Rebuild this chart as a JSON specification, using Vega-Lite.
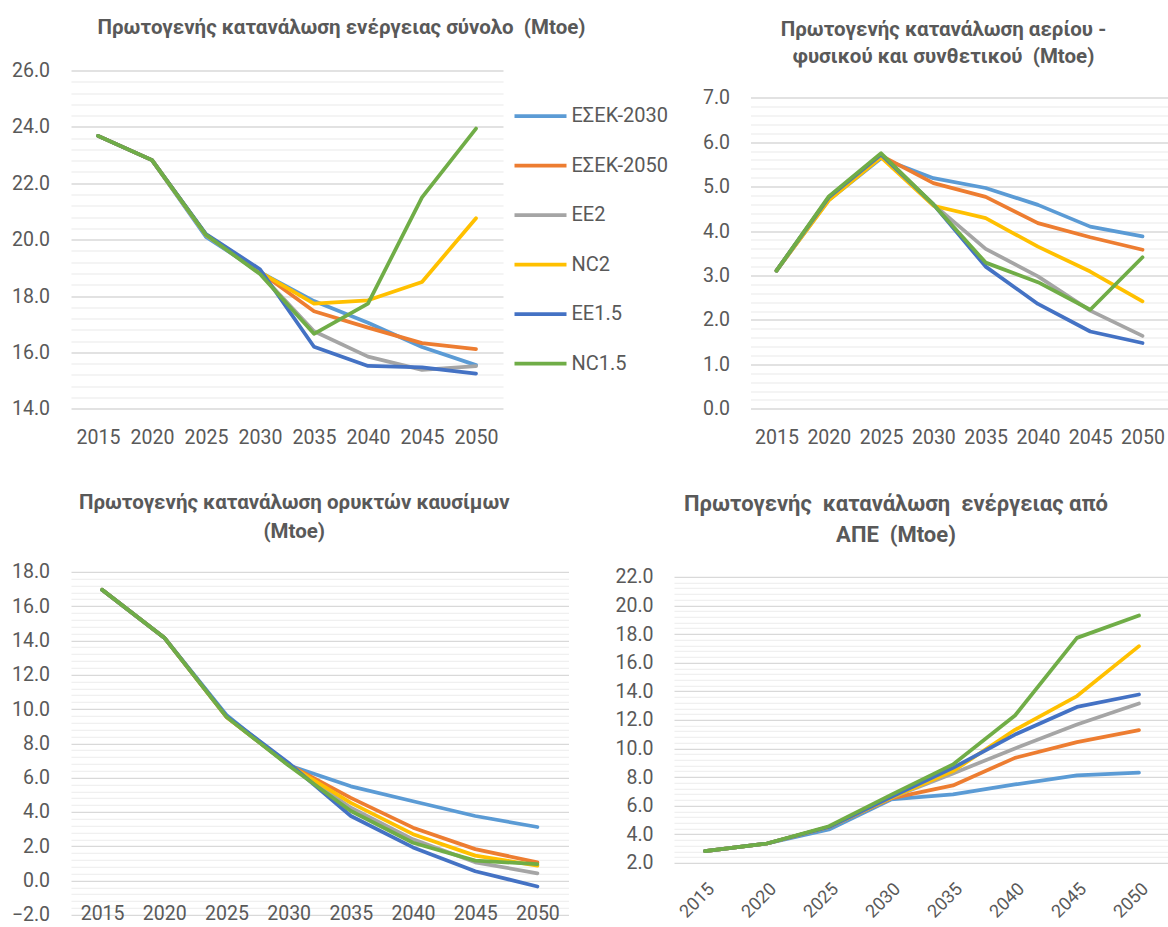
{
  "$schema": "https://vega.github.io/schema/vega-lite/v6.json",
  "padding": {"left": 11, "top": 17.5, "right": 0, "bottom": 3},
  "background": "white",
  "config": {
    "view": {"stroke": null},
    "font": "Roboto",
    "axis": {"labelColor": "#595959", "labelFontSize": 19.5, "labelFont": "Roboto", "domain": false, "ticks": false, "title": null},
    "title": {"color": "#595959", "fontSize": 20.5, "fontWeight": "bold", "font": "Roboto", "anchor": "middle", "frame": "group", "baseline": "bottom", "lineHeight": 27},
    "line": {"strokeWidth": 3.75, "strokeCap": "round", "strokeJoin": "round"}
  },
  "datasets": {
    "total": [
      {"year": 2015, "series": "ΕΣΕΚ-2030", "value": 23.68}, {"year": 2015, "series": "ΕΣΕΚ-2050", "value": 23.68}, {"year": 2015, "series": "EE2", "value": 23.68}, {"year": 2015, "series": "NC2", "value": 23.68}, {"year": 2015, "series": "EE1.5", "value": 23.68}, {"year": 2015, "series": "NC1.5", "value": 23.68},
      {"year": 2020, "series": "ΕΣΕΚ-2030", "value": 22.82}, {"year": 2020, "series": "ΕΣΕΚ-2050", "value": 22.82}, {"year": 2020, "series": "EE2", "value": 22.82}, {"year": 2020, "series": "NC2", "value": 22.82}, {"year": 2020, "series": "EE1.5", "value": 22.82}, {"year": 2020, "series": "NC1.5", "value": 22.82},
      {"year": 2025, "series": "ΕΣΕΚ-2030", "value": 20.1}, {"year": 2025, "series": "ΕΣΕΚ-2050", "value": 20.17}, {"year": 2025, "series": "EE2", "value": 20.17}, {"year": 2025, "series": "NC2", "value": 20.17}, {"year": 2025, "series": "EE1.5", "value": 20.2}, {"year": 2025, "series": "NC1.5", "value": 20.17},
      {"year": 2030, "series": "ΕΣΕΚ-2030", "value": 18.85}, {"year": 2030, "series": "ΕΣΕΚ-2050", "value": 18.85}, {"year": 2030, "series": "EE2", "value": 18.8}, {"year": 2030, "series": "NC2", "value": 18.85}, {"year": 2030, "series": "EE1.5", "value": 18.95}, {"year": 2030, "series": "NC1.5", "value": 18.78},
      {"year": 2035, "series": "ΕΣΕΚ-2030", "value": 17.82}, {"year": 2035, "series": "ΕΣΕΚ-2050", "value": 17.46}, {"year": 2035, "series": "EE2", "value": 16.75}, {"year": 2035, "series": "NC2", "value": 17.73}, {"year": 2035, "series": "EE1.5", "value": 16.2}, {"year": 2035, "series": "NC1.5", "value": 16.66},
      {"year": 2040, "series": "ΕΣΕΚ-2030", "value": 17.05}, {"year": 2040, "series": "ΕΣΕΚ-2050", "value": 16.88}, {"year": 2040, "series": "EE2", "value": 15.85}, {"year": 2040, "series": "NC2", "value": 17.85}, {"year": 2040, "series": "EE1.5", "value": 15.52}, {"year": 2040, "series": "NC1.5", "value": 17.73},
      {"year": 2045, "series": "ΕΣΕΚ-2030", "value": 16.19}, {"year": 2045, "series": "ΕΣΕΚ-2050", "value": 16.33}, {"year": 2045, "series": "EE2", "value": 15.38}, {"year": 2045, "series": "NC2", "value": 18.5}, {"year": 2045, "series": "EE1.5", "value": 15.47}, {"year": 2045, "series": "NC1.5", "value": 21.5},
      {"year": 2050, "series": "ΕΣΕΚ-2030", "value": 15.55}, {"year": 2050, "series": "ΕΣΕΚ-2050", "value": 16.12}, {"year": 2050, "series": "EE2", "value": 15.51}, {"year": 2050, "series": "NC2", "value": 20.76}, {"year": 2050, "series": "EE1.5", "value": 15.25}, {"year": 2050, "series": "NC1.5", "value": 23.94}
    ],
    "gas": [
      {"year": 2015, "series": "ΕΣΕΚ-2030", "value": 3.11}, {"year": 2015, "series": "ΕΣΕΚ-2050", "value": 3.11}, {"year": 2015, "series": "EE2", "value": 3.11}, {"year": 2015, "series": "NC2", "value": 3.11}, {"year": 2015, "series": "EE1.5", "value": 3.11}, {"year": 2015, "series": "NC1.5", "value": 3.11},
      {"year": 2020, "series": "ΕΣΕΚ-2030", "value": 4.7}, {"year": 2020, "series": "ΕΣΕΚ-2050", "value": 4.75}, {"year": 2020, "series": "EE2", "value": 4.75}, {"year": 2020, "series": "NC2", "value": 4.69}, {"year": 2020, "series": "EE1.5", "value": 4.76}, {"year": 2020, "series": "NC1.5", "value": 4.78},
      {"year": 2025, "series": "ΕΣΕΚ-2030", "value": 5.64}, {"year": 2025, "series": "ΕΣΕΚ-2050", "value": 5.7}, {"year": 2025, "series": "EE2", "value": 5.7}, {"year": 2025, "series": "NC2", "value": 5.66}, {"year": 2025, "series": "EE1.5", "value": 5.72}, {"year": 2025, "series": "NC1.5", "value": 5.75},
      {"year": 2030, "series": "ΕΣΕΚ-2030", "value": 5.19}, {"year": 2030, "series": "ΕΣΕΚ-2050", "value": 5.08}, {"year": 2030, "series": "EE2", "value": 4.6}, {"year": 2030, "series": "NC2", "value": 4.57}, {"year": 2030, "series": "EE1.5", "value": 4.6}, {"year": 2030, "series": "NC1.5", "value": 4.6},
      {"year": 2035, "series": "ΕΣΕΚ-2030", "value": 4.97}, {"year": 2035, "series": "ΕΣΕΚ-2050", "value": 4.77}, {"year": 2035, "series": "EE2", "value": 3.6}, {"year": 2035, "series": "NC2", "value": 4.29}, {"year": 2035, "series": "EE1.5", "value": 3.2}, {"year": 2035, "series": "NC1.5", "value": 3.29},
      {"year": 2040, "series": "ΕΣΕΚ-2030", "value": 4.59}, {"year": 2040, "series": "ΕΣΕΚ-2050", "value": 4.18}, {"year": 2040, "series": "EE2", "value": 2.98}, {"year": 2040, "series": "NC2", "value": 3.65}, {"year": 2040, "series": "EE1.5", "value": 2.36}, {"year": 2040, "series": "NC1.5", "value": 2.85},
      {"year": 2045, "series": "ΕΣΕΚ-2030", "value": 4.1}, {"year": 2045, "series": "ΕΣΕΚ-2050", "value": 3.86}, {"year": 2045, "series": "EE2", "value": 2.21}, {"year": 2045, "series": "NC2", "value": 3.09}, {"year": 2045, "series": "EE1.5", "value": 1.74}, {"year": 2045, "series": "NC1.5", "value": 2.23},
      {"year": 2050, "series": "ΕΣΕΚ-2030", "value": 3.88}, {"year": 2050, "series": "ΕΣΕΚ-2050", "value": 3.58}, {"year": 2050, "series": "EE2", "value": 1.64}, {"year": 2050, "series": "NC2", "value": 2.42}, {"year": 2050, "series": "EE1.5", "value": 1.48}, {"year": 2050, "series": "NC1.5", "value": 3.41}
    ],
    "fossil": [
      {"year": 2015, "series": "ΕΣΕΚ-2030", "value": 16.95}, {"year": 2015, "series": "ΕΣΕΚ-2050", "value": 16.95}, {"year": 2015, "series": "EE2", "value": 16.95}, {"year": 2015, "series": "NC2", "value": 16.95}, {"year": 2015, "series": "EE1.5", "value": 16.95}, {"year": 2015, "series": "NC1.5", "value": 16.95},
      {"year": 2020, "series": "ΕΣΕΚ-2030", "value": 14.16}, {"year": 2020, "series": "ΕΣΕΚ-2050", "value": 14.16}, {"year": 2020, "series": "EE2", "value": 14.16}, {"year": 2020, "series": "NC2", "value": 14.16}, {"year": 2020, "series": "EE1.5", "value": 14.16}, {"year": 2020, "series": "NC1.5", "value": 14.16},
      {"year": 2025, "series": "ΕΣΕΚ-2030", "value": 9.65}, {"year": 2025, "series": "ΕΣΕΚ-2050", "value": 9.54}, {"year": 2025, "series": "EE2", "value": 9.54}, {"year": 2025, "series": "NC2", "value": 9.54}, {"year": 2025, "series": "EE1.5", "value": 9.58}, {"year": 2025, "series": "NC1.5", "value": 9.54},
      {"year": 2030, "series": "ΕΣΕΚ-2030", "value": 6.72}, {"year": 2030, "series": "ΕΣΕΚ-2050", "value": 6.75}, {"year": 2030, "series": "EE2", "value": 6.75}, {"year": 2030, "series": "NC2", "value": 6.75}, {"year": 2030, "series": "EE1.5", "value": 6.85}, {"year": 2030, "series": "NC1.5", "value": 6.7},
      {"year": 2035, "series": "ΕΣΕΚ-2030", "value": 5.49}, {"year": 2035, "series": "ΕΣΕΚ-2050", "value": 4.82}, {"year": 2035, "series": "EE2", "value": 4.24}, {"year": 2035, "series": "NC2", "value": 4.53}, {"year": 2035, "series": "EE1.5", "value": 3.76}, {"year": 2035, "series": "NC1.5", "value": 4.05},
      {"year": 2040, "series": "ΕΣΕΚ-2030", "value": 4.62}, {"year": 2040, "series": "ΕΣΕΚ-2050", "value": 3.08}, {"year": 2040, "series": "EE2", "value": 2.4}, {"year": 2040, "series": "NC2", "value": 2.7}, {"year": 2040, "series": "EE1.5", "value": 1.93}, {"year": 2040, "series": "NC1.5", "value": 2.2},
      {"year": 2045, "series": "ΕΣΕΚ-2030", "value": 3.76}, {"year": 2045, "series": "ΕΣΕΚ-2050", "value": 1.83}, {"year": 2045, "series": "EE2", "value": 1.06}, {"year": 2045, "series": "NC2", "value": 1.45}, {"year": 2045, "series": "EE1.5", "value": 0.54}, {"year": 2045, "series": "NC1.5", "value": 1.16},
      {"year": 2050, "series": "ΕΣΕΚ-2030", "value": 3.12}, {"year": 2050, "series": "ΕΣΕΚ-2050", "value": 1.06}, {"year": 2050, "series": "EE2", "value": 0.42}, {"year": 2050, "series": "NC2", "value": 0.87}, {"year": 2050, "series": "EE1.5", "value": -0.35}, {"year": 2050, "series": "NC1.5", "value": 0.96}
    ],
    "res": [
      {"year": 2015, "series": "ΕΣΕΚ-2030", "value": 2.82}, {"year": 2015, "series": "ΕΣΕΚ-2050", "value": 2.82}, {"year": 2015, "series": "EE2", "value": 2.82}, {"year": 2015, "series": "NC2", "value": 2.82}, {"year": 2015, "series": "EE1.5", "value": 2.82}, {"year": 2015, "series": "NC1.5", "value": 2.82},
      {"year": 2020, "series": "ΕΣΕΚ-2030", "value": 3.35}, {"year": 2020, "series": "ΕΣΕΚ-2050", "value": 3.35}, {"year": 2020, "series": "EE2", "value": 3.35}, {"year": 2020, "series": "NC2", "value": 3.35}, {"year": 2020, "series": "EE1.5", "value": 3.35}, {"year": 2020, "series": "NC1.5", "value": 3.35},
      {"year": 2025, "series": "ΕΣΕΚ-2030", "value": 4.33}, {"year": 2025, "series": "ΕΣΕΚ-2050", "value": 4.5}, {"year": 2025, "series": "EE2", "value": 4.5}, {"year": 2025, "series": "NC2", "value": 4.5}, {"year": 2025, "series": "EE1.5", "value": 4.5}, {"year": 2025, "series": "NC1.5", "value": 4.56},
      {"year": 2030, "series": "ΕΣΕΚ-2030", "value": 6.43}, {"year": 2030, "series": "ΕΣΕΚ-2050", "value": 6.5}, {"year": 2030, "series": "EE2", "value": 6.55}, {"year": 2030, "series": "NC2", "value": 6.55}, {"year": 2030, "series": "EE1.5", "value": 6.6}, {"year": 2030, "series": "NC1.5", "value": 6.75},
      {"year": 2035, "series": "ΕΣΕΚ-2030", "value": 6.78}, {"year": 2035, "series": "ΕΣΕΚ-2050", "value": 7.41}, {"year": 2035, "series": "EE2", "value": 8.25}, {"year": 2035, "series": "NC2", "value": 8.41}, {"year": 2035, "series": "EE1.5", "value": 8.64}, {"year": 2035, "series": "NC1.5", "value": 8.88},
      {"year": 2040, "series": "ΕΣΕΚ-2030", "value": 7.48}, {"year": 2040, "series": "ΕΣΕΚ-2050", "value": 9.34}, {"year": 2040, "series": "EE2", "value": 10.0}, {"year": 2040, "series": "NC2", "value": 11.3}, {"year": 2040, "series": "EE1.5", "value": 10.97}, {"year": 2040, "series": "NC1.5", "value": 12.3},
      {"year": 2045, "series": "ΕΣΕΚ-2030", "value": 8.11}, {"year": 2045, "series": "ΕΣΕΚ-2050", "value": 10.44}, {"year": 2045, "series": "EE2", "value": 11.67}, {"year": 2045, "series": "NC2", "value": 13.66}, {"year": 2045, "series": "EE1.5", "value": 12.9}, {"year": 2045, "series": "NC1.5", "value": 17.73},
      {"year": 2050, "series": "ΕΣΕΚ-2030", "value": 8.3}, {"year": 2050, "series": "ΕΣΕΚ-2050", "value": 11.28}, {"year": 2050, "series": "EE2", "value": 13.14}, {"year": 2050, "series": "NC2", "value": 17.15}, {"year": 2050, "series": "EE1.5", "value": 13.77}, {"year": 2050, "series": "NC1.5", "value": 19.3}
    ]
  },
  "vconcat": [
    {
      "hconcat": [
        {
          "data": {"name": "total"},
          "width": 432, "height": 338.3,
          "title": {"text": "Πρωτογενής κατανάλωση ενέργειας σύνολο\u00a0 (Mtoe)", "dx": 54.5, "offset": 22},
          "mark": {"type": "line"},
          "encoding": {
            "x": {"field": "year", "type": "quantitative", "scale": {"domain": [2012.5, 2052.5], "nice": false, "zero": false},
                  "axis": {"values": [2015, 2020, 2025, 2030, 2035, 2040, 2045, 2050], "format": "d", "grid": false, "labelPadding": 29, "labelBaseline": "middle"}},
            "y": {"field": "value", "type": "quantitative", "scale": {"domain": [14, 26], "nice": false, "zero": false},
                  "axis": {"values": [14,14.4,14.8,15.2,15.6,16,16.4,16.8,17.2,17.6,18,18.4,18.8,19.2,19.6,20,20.4,20.8,21.2,21.6,22,22.4,22.8,23.2,23.6,24,24.4,24.8,25.2,25.6,26],
                           "labelExpr": "abs(round(datum.value*10)) % 20 == 0 ? format(datum.value, '.1f') : ''", "labelOverlap": false, "labelPadding": 21.5,
                           "gridColor": {"condition": {"test": "abs(round(datum.value*10)) % 20 == 0", "value": "#d9d9d9"}, "value": "#f0f0f0"}, "gridWidth": 1.3}},
            "color": {"field": "series", "type": "nominal",
                      "scale": {"domain": ["ΕΣΕΚ-2030", "ΕΣΕΚ-2050", "EE2", "NC2", "EE1.5", "NC1.5"], "range": ["#5B9BD5", "#ED7D31", "#A5A5A5", "#FFC000", "#4472C4", "#70AD47"]},
                      "legend": {"orient": "none", "legendX": 441.5, "legendY": 17.5, "title": null, "symbolType": "stroke", "symbolSize": 2704, "symbolStrokeWidth": 4, "labelFontSize": 20, "labelColor": "#595959", "labelFont": "Roboto", "rowPadding": 11.5, "labelOffset": 3}}
          }
        },
        {
          "data": {"name": "gas"},
          "width": 417, "height": 338.3,
          "title": {"text": ["Πρωτογενής κατανάλωση αερίου -", "φυσικού και συνθετικού\u00a0 (Mtoe)"], "dx": -15.5, "offset": 3},
          "mark": {"type": "line"},
          "encoding": {
            "x": {"field": "year", "type": "quantitative", "scale": {"domain": [2012.51, 2052.39], "nice": false, "zero": false},
                  "axis": {"values": [2015, 2020, 2025, 2030, 2035, 2040, 2045, 2050], "format": "d", "grid": false, "labelPadding": 29, "labelBaseline": "middle"}},
            "y": {"field": "value", "type": "quantitative", "scale": {"domain": [0, 7.614], "nice": false, "zero": false},
                  "axis": {"values": [0,0.2,0.4,0.6,0.8,1,1.2,1.4,1.6,1.8,2,2.2,2.4,2.6,2.8,3,3.2,3.4,3.6,3.8,4,4.2,4.4,4.6,4.8,5,5.2,5.4,5.6,5.8,6,6.2,6.4,6.6,6.8,7],
                           "labelExpr": "abs(round(datum.value*10)) % 10 == 0 ? format(datum.value, '.1f') : ''", "labelOverlap": false, "labelPadding": 21,
                           "gridColor": {"condition": {"test": "abs(round(datum.value*10)) % 10 == 0", "value": "#d9d9d9"}, "value": "#f0f0f0"}, "gridWidth": 1.3}},
            "color": {"field": "series", "type": "nominal",
                      "scale": {"domain": ["ΕΣΕΚ-2030", "ΕΣΕΚ-2050", "EE2", "NC2", "EE1.5", "NC1.5"], "range": ["#5B9BD5", "#ED7D31", "#A5A5A5", "#FFC000", "#4472C4", "#70AD47"]},
                      "legend": null}
          }
        }
      ],
      "spacing": 247.5,
      "bounds": "flush",
      "resolve": {"scale": {"color": "independent"}}
    },
    {
      "hconcat": [
        {
          "data": {"name": "fossil"},
          "width": 497.5, "height": 343,
          "title": {"text": ["Πρωτογενής κατανάλωση ορυκτών καυσίμων", "(Mtoe)"], "dx": -25.5, "offset": 19.5, "lineHeight": 29},
          "mark": {"type": "line"},
          "encoding": {
            "x": {"field": "year", "type": "quantitative", "scale": {"domain": [2012.5, 2052.5], "nice": false, "zero": false},
                  "axis": {"values": [2015, 2020, 2025, 2030, 2035, 2040, 2045, 2050], "format": "d", "grid": false, "labelPadding": -1, "labelBaseline": "middle"}},
            "y": {"field": "value", "type": "quantitative", "scale": {"domain": [-2, 18], "nice": false, "zero": false},
                  "axis": {"values": [-2,-1.6,-1.2,-0.8,-0.4,0,0.4,0.8,1.2,1.6,2,2.4,2.8,3.2,3.6,4,4.4,4.8,5.2,5.6,6,6.4,6.8,7.2,7.6,8,8.4,8.8,9.2,9.6,10,10.4,10.8,11.2,11.6,12,12.4,12.8,13.2,13.6,14,14.4,14.8,15.2,15.6,16,16.4,16.8,17.2,17.6,18],
                           "labelExpr": "abs(round(datum.value*10)) % 20 == 0 ? format(datum.value, '.1f') : ''", "labelOverlap": false, "labelPadding": 21.5,
                           "gridColor": {"condition": {"test": "abs(round(datum.value*10)) % 20 == 0", "value": "#d9d9d9"}, "value": "#f0f0f0"}, "gridWidth": 1.3}},
            "color": {"field": "series", "type": "nominal",
                      "scale": {"domain": ["ΕΣΕΚ-2030", "ΕΣΕΚ-2050", "EE2", "NC2", "EE1.5", "NC1.5"], "range": ["#5B9BD5", "#ED7D31", "#A5A5A5", "#FFC000", "#4472C4", "#70AD47"]},
                      "legend": null}
          }
        },
        {
          "data": {"name": "res"},
          "width": 494, "height": 291,
          "title": {"text": ["Πρωτογενής\u00a0 κατανάλωση\u00a0 ενέργειας από", "ΑΠΕ\u00a0 (Mtoe)"], "dx": -25, "offset": 19.5, "fontSize": 22, "lineHeight": 31},
          "mark": {"type": "line"},
          "encoding": {
            "x": {"field": "year", "type": "quantitative", "scale": {"domain": [2012.5, 2052.34], "nice": false, "zero": false},
                  "axis": {"values": [2015, 2020, 2025, 2030, 2035, 2040, 2045, 2050], "format": "d", "grid": false, "labelAngle": -45, "labelPadding": 17, "labelFontSize": 18}},
            "y": {"field": "value", "type": "quantitative", "scale": {"domain": [2, 22.35], "nice": false, "zero": false},
                  "axis": {"values": [2,2.4,2.8,3.2,3.6,4,4.4,4.8,5.2,5.6,6,6.4,6.8,7.2,7.6,8,8.4,8.8,9.2,9.6,10,10.4,10.8,11.2,11.6,12,12.4,12.8,13.2,13.6,14,14.4,14.8,15.2,15.6,16,16.4,16.8,17.2,17.6,18,18.4,18.8,19.2,19.6,20,20.4,20.8,21.2,21.6,22],
                           "labelExpr": "abs(round(datum.value*10)) % 20 == 0 ? format(datum.value, '.1f') : ''", "labelOverlap": false, "labelPadding": 21,
                           "gridColor": {"condition": {"test": "abs(round(datum.value*10)) % 20 == 0", "value": "#d9d9d9"}, "value": "#f0f0f0"}, "gridWidth": 1.3}},
            "color": {"field": "series", "type": "nominal",
                      "scale": {"domain": ["ΕΣΕΚ-2030", "ΕΣΕΚ-2050", "EE2", "NC2", "EE1.5", "NC1.5"], "range": ["#5B9BD5", "#ED7D31", "#A5A5A5", "#FFC000", "#4472C4", "#70AD47"]},
                      "legend": null}
          }
        }
      ],
      "spacing": 105,
      "bounds": "flush",
      "resolve": {"scale": {"color": "independent"}}
    }
  ],
  "spacing": 501.3,
  "bounds": "flush",
  "resolve": {"scale": {"color": "independent"}}
}
